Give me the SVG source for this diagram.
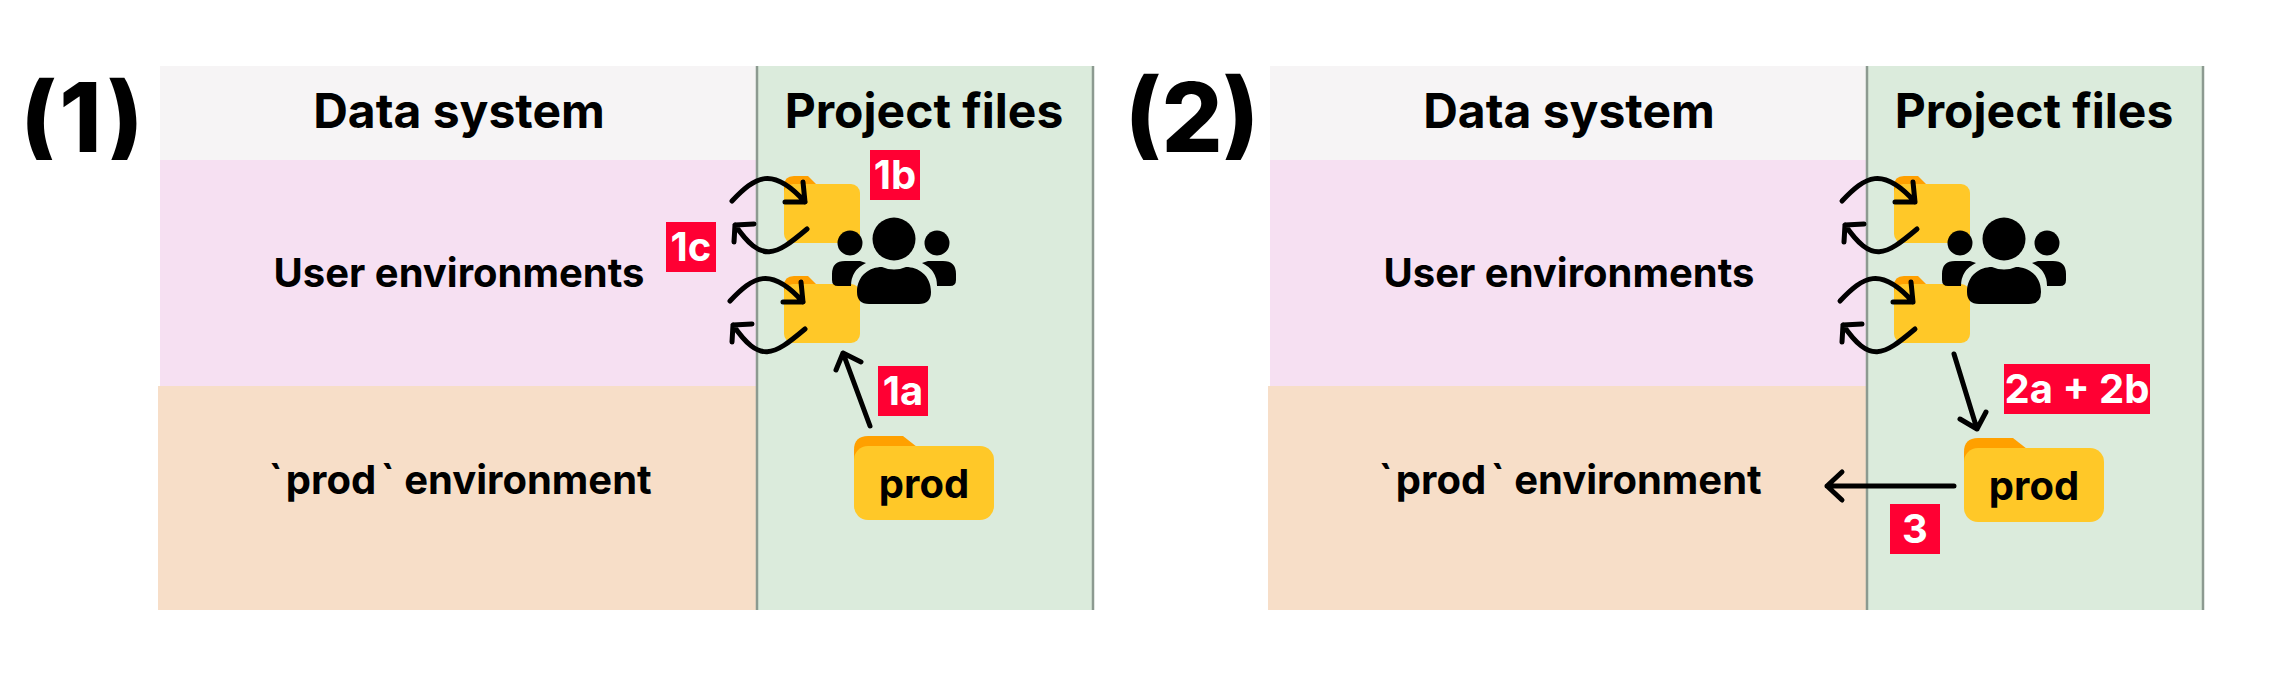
<svg xmlns="http://www.w3.org/2000/svg" xmlns:xlink="http://www.w3.org/1999/xlink" width="2272" height="676" viewBox="0 0 2272 676">
<style>
text{font-family:Inter,"Liberation Sans",sans-serif;fill:#000}
.h{font-size:48px;font-weight:700;text-anchor:middle}
.r{font-size:40px;font-weight:700;text-anchor:middle}
.big{font-size:96px;font-weight:800;text-anchor:middle}
.p{font-size:40px;font-weight:700;text-anchor:middle}
.bt{font-size:40px;font-weight:700;fill:#fff;text-anchor:middle}
.b{fill:#ff0033}
.arr{fill:none;stroke:#000;stroke-width:5;stroke-linecap:round;stroke-linejoin:round}
.sep{stroke:#8c9a90;stroke-width:2.5}
.tab{fill:#ffa000}.body{fill:#ffc828}
</style>
<defs>
<clipPath id="c"><rect x="0" y="73" width="2272" height="87"/></clipPath>
<g id="sm"><path class="tab" d="M784 200V186Q784 176 794 176H808L818 186V200Z"/><rect class="body" x="784" y="184" width="76" height="59" rx="9"/></g>
<g id="bg"><path class="tab" d="M854 470V450Q854 436 868 436H903L917 447V470Z"/><rect class="body" x="854" y="446" width="140" height="74" rx="14"/></g>
<g id="ppl"><circle cx="894" cy="239" r="21.5"/><circle cx="850" cy="243" r="12.5"/><circle cx="937" cy="243" r="12.5"/>
<path d="M857 292C857 275 870 267 882 267Q894 272 906 267C918 267 931 275 931 292Q931 304 919 304H869Q857 304 857 292Z"/>
<path d="M832 280V274Q832 261 845 261H860L866 263Q851 270 851 286H838Q832 286 832 280Z"/><path d="M956 280V274Q956 261 943 261H928L922 263Q937 270 937 286H950Q956 286 956 280Z"/></g>
<g id="sw"><path class="arr" d="M732 201C755 177 772 165 805 202M803 182L805 202L785 202"/><path class="arr" d="M807 229C775 256 762 264 735 225M734 242L735 225L754 224"/></g>
</defs>
<g id="panel-1">
<rect x="160" y="66" width="597" height="94" fill="#f6f4f5"/><rect x="160" y="160" width="597" height="226" fill="#f6e0f2"/><rect x="158" y="386" width="599" height="224" fill="#f7dec8"/><rect x="757" y="66" width="336" height="544" fill="#dbebdc"/>
<path class="sep" d="M757 66V610M1093 66V610"/>
</g>
<g id="panel-2">
<rect x="1270" y="66" width="597" height="94" fill="#f6f4f5"/><rect x="1270" y="160" width="597" height="226" fill="#f6e0f2"/><rect x="1268" y="386" width="599" height="224" fill="#f7dec8"/><rect x="1867" y="66" width="336" height="544" fill="#dbebdc"/>
<path class="sep" d="M1867 66V610M2203 66V610"/>
</g>
<g id="label-1"><text class="big" x="83" y="152" clip-path="url(#c)" letter-spacing="2.5">(1)</text></g>
<g id="label-2"><text class="big" x="1192" y="152" clip-path="url(#c)">(2)</text></g>
<g id="titles">
<text class="h" x="459" y="128">Data system</text><text class="h" x="924" y="128">Project files</text>
<text class="r" x="459" y="287">User environments</text><text class="r" x="460" y="494">`<tspan dx="3">prod</tspan><tspan dx="4">`</tspan> environment</text>
<text class="h" x="1569" y="128">Data system</text><text class="h" x="2034" y="128">Project files</text>
<text class="r" x="1569" y="287">User environments</text><text class="r" x="1570" y="494">`<tspan dx="3">prod</tspan><tspan dx="4">`</tspan> environment</text>
</g>
<g id="folders-1"><use xlink:href="#sm"/><use xlink:href="#sm" y="100"/><use xlink:href="#bg"/><text class="p" x="924" y="498">prod</text><use xlink:href="#ppl"/></g>
<g id="folders-2"><use xlink:href="#sm" x="1110"/><use xlink:href="#sm" x="1110" y="100"/><use xlink:href="#bg" x="1110" y="2"/><text class="p" x="2034" y="500">prod</text><use xlink:href="#ppl" x="1110"/></g>
<g id="connectors">
<use xlink:href="#sw"/><use xlink:href="#sw" x="-2" y="100"/><use xlink:href="#sw" x="1110"/><use xlink:href="#sw" x="1108" y="100"/>
<path class="arr" d="M870 426L843 353M836 370L843 353L861 362"/>
<path class="arr" d="M1954 354L1977 429M1960 419L1977 429L1986 412"/>
<path class="arr" d="M1954 486H1827M1842 472L1827 486L1842 500"/>
</g>
<g id="badges">
<rect class="b" x="870" y="150" width="50" height="50"/><text class="bt" x="895" y="189">1b</text>
<rect class="b" x="666" y="222" width="50" height="50"/><text class="bt" x="691" y="261">1c</text>
<rect class="b" x="878" y="366" width="50" height="50"/><text class="bt" x="903" y="405">1a</text>
<rect class="b" x="2004" y="364" width="146" height="50"/><text class="bt" x="2077" y="403">2a + 2b</text>
<rect class="b" x="1890" y="504" width="50" height="50"/><text class="bt" x="1915" y="543">3</text>
</g>
</svg>
